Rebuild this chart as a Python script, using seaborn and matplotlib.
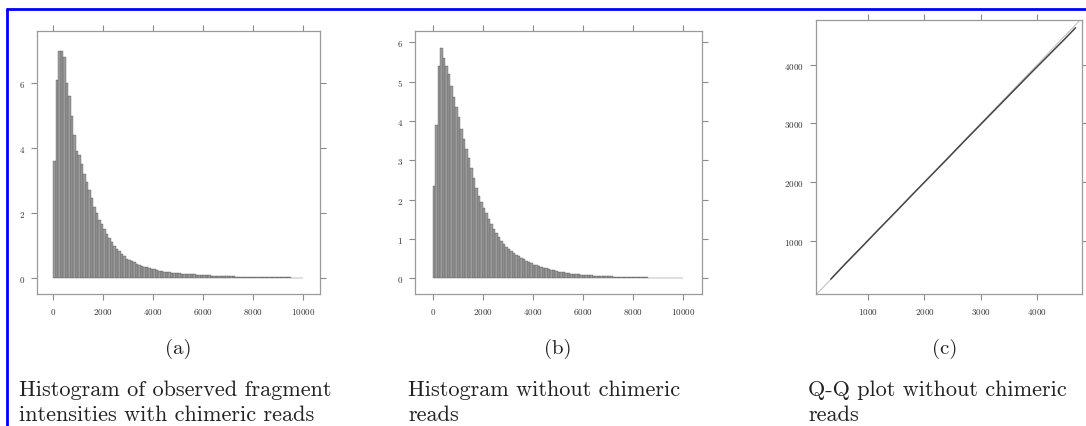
import numpy as np
import pandas as pd
import matplotlib
matplotlib.use('Agg')
import matplotlib.pyplot as plt
from matplotlib.lines import Line2D
import seaborn as sns

sns.set_theme(style='white')
plt.rcParams['font.family'] = ['cmr10', 'DejaVu Serif']
plt.rcParams['axes.formatter.use_mathtext'] = True

# ── Data ──────────────────────────────────────────────
bin_width = 100
bin_edges = np.arange(0, 10001, bin_width)

# (a) density x 1e4, intensities with chimeric reads
hist_with_chimeric = [
    3.6, 6.1, 7.0, 7.0, 6.8, 6.0, 5.6, 5.0, 4.4, 3.9,
    3.8, 3.5, 3.2, 2.95, 2.7, 2.45, 2.2, 2.0, 1.8, 1.65,
    1.5, 1.35, 1.22, 1.1, 1.0, 0.9, 0.82, 0.74, 0.67, 0.6,
    0.56, 0.52, 0.48, 0.44, 0.41, 0.38, 0.35, 0.33, 0.31, 0.29,
    0.27, 0.25, 0.23, 0.22, 0.2, 0.19, 0.18, 0.17, 0.16, 0.15,
    0.145, 0.14, 0.13, 0.125, 0.12, 0.115, 0.11, 0.1, 0.095, 0.09,
    0.088, 0.085, 0.08, 0.077, 0.074, 0.07, 0.067, 0.064, 0.06, 0.058,
    0.055, 0.053, 0.05, 0.048, 0.046, 0.044, 0.042, 0.04, 0.038, 0.036,
    0.035, 0.033, 0.032, 0.03, 0.029, 0.027, 0.026, 0.025, 0.024, 0.023,
    0.022, 0.021, 0.02, 0.019, 0.018, 0.017, 0.016, 0.015, 0.014, 0.013,
]

# (b) density x 1e4, without chimeric reads
hist_without_chimeric = [
    2.35, 3.9, 5.4, 5.85, 5.6, 5.4, 5.2, 4.9, 4.6, 4.35,
    4.1, 3.8, 3.55, 3.3, 3.05, 2.8, 2.55, 2.3, 2.1, 1.95,
    1.8, 1.65, 1.5, 1.38, 1.25, 1.15, 1.05, 0.95, 0.87, 0.8,
    0.74, 0.7, 0.65, 0.6, 0.56, 0.52, 0.48, 0.44, 0.41, 0.38,
    0.35, 0.33, 0.31, 0.29, 0.27, 0.25, 0.23, 0.21, 0.2, 0.18,
    0.17, 0.16, 0.15, 0.14, 0.13, 0.12, 0.115, 0.11, 0.1, 0.095,
    0.09, 0.085, 0.08, 0.075, 0.07, 0.066, 0.062, 0.058, 0.055, 0.052,
    0.049, 0.046, 0.043, 0.04, 0.038, 0.036, 0.034, 0.032, 0.03, 0.028,
    0.026, 0.025, 0.023, 0.022, 0.021, 0.02, 0.019, 0.018, 0.017, 0.016,
    0.015, 0.014, 0.013, 0.012, 0.011, 0.01, 0.009, 0.008, 0.007, 0.006,
]

# (c) Q-Q quantiles
qq_theoretical = [340, 600, 900, 1200, 1500, 1800, 2100, 2400, 2700, 3000,
                  3300, 3600, 3900, 4200, 4500, 4680]
qq_observed = [345, 610, 905, 1205, 1500, 1800, 2095, 2390, 2690, 2985,
               3280, 3575, 3870, 4160, 4450, 4630]

hist_xticks = [0, 2000, 4000, 6000, 8000, 10000]
qq_ticks = [1000, 2000, 3000, 4000]

panel_labels = ['(a)', '(b)', '(c)']
captions = [
    ['Histogram of observed fragment', 'intensities with chimeric reads'],
    ['Histogram without chimeric', 'reads'],
    ['Q-Q plot without chimeric', 'reads'],
]

W, H = 1086, 427
fig = plt.figure(figsize=(W / 100, H / 100), dpi=100)


def px_axes(left, right, top, bottom):
    return fig.add_axes([left / W, 1 - bottom / H, (right - left) / W, (bottom - top) / H])


def lattice_style(ax):
    for sp in ax.spines.values():
        sp.set_color('#9a9a9a')
        sp.set_linewidth(0.9)
    ax.tick_params(direction='out', length=4.5, width=0.8, color='#8a8a8a',
                   bottom=True, left=True, top=True, right=True,
                   labeltop=False, labelright=False,
                   labelsize=6.5, labelcolor='#333333', pad=4)
    ax.set_xlabel('')
    ax.set_ylabel('')
    ax.grid(False)


centers = bin_edges[:-1] + bin_width / 2
df_hist = pd.DataFrame({'intensity': centers,
                        'with_chimeric': hist_with_chimeric,
                        'without_chimeric': hist_without_chimeric})

# ── Panel (a) ─────────────────────────────────────────
ax_a = px_axes(37, 320, 32, 295)
sns.histplot(data=df_hist, x='intensity', weights='with_chimeric',
             binwidth=bin_width, binrange=(0, 10000), ax=ax_a,
             color='#9b9b9b', edgecolor='#4a4a4a', linewidth=0.25, alpha=1)
ax_a.set_xlim(-640, 10680)
ax_a.set_ylim(-0.49, 7.6)
ax_a.set_xticks(hist_xticks)
ax_a.set_yticks([0, 2, 4, 6])
lattice_style(ax_a)

# ── Panel (b) ─────────────────────────────────────────
ax_b = px_axes(415, 702, 32, 295)
sns.histplot(data=df_hist, x='intensity', weights='without_chimeric',
             binwidth=bin_width, binrange=(0, 10000), ax=ax_b,
             color='#9b9b9b', edgecolor='#4a4a4a', linewidth=0.25, alpha=1)
ax_b.set_xlim(-708, 10772)
ax_b.set_ylim(-0.4, 6.29)
ax_b.set_xticks(hist_xticks)
ax_b.set_yticks([0, 1, 2, 3, 4, 5, 6])
lattice_style(ax_b)

# ── Panel (c) ─────────────────────────────────────────
ax_c = px_axes(816, 1082, 21, 295)
ax_c.set_xlim(78, 4794)
ax_c.set_ylim(92, 4762)
ax_c.axline((0, 0), slope=1, color='#c4c4c4', linewidth=0.8, zorder=1)
sns.lineplot(x=qq_theoretical, y=qq_observed, ax=ax_c, color='#454545',
             linewidth=1.1, zorder=2)
ax_c.set_xticks(qq_ticks)
ax_c.set_yticks(qq_ticks)
lattice_style(ax_c)

# ── Panel labels and captions ─────────────────────────
label_x = [178, 558, 945]
caption_x = [19, 408, 808]
for lab, lx, cap, cx in zip(panel_labels, label_x, captions, caption_x):
    fig.text(lx / W, 1 - 349 / H, lab, ha='center', va='center',
             fontsize=15, color='#222222')
    for k, line in enumerate(cap):
        fig.text(cx / W, 1 - (396 + 25 * k) / H, line, ha='left', va='baseline',
                 fontsize=16, color='#222222')

# blue frame (top and left edges)
fig.add_artist(Line2D([7 / W, 7 / W], [0, 1 - 10 / H], color='#0000ff',
                      linewidth=2, transform=fig.transFigure))
fig.add_artist(Line2D([7 / W, 1], [1 - 10 / H, 1 - 10 / H], color='#0000ff',
                      linewidth=2, transform=fig.transFigure))

plt.savefig('out.png', dpi=100)
plt.close(fig)
